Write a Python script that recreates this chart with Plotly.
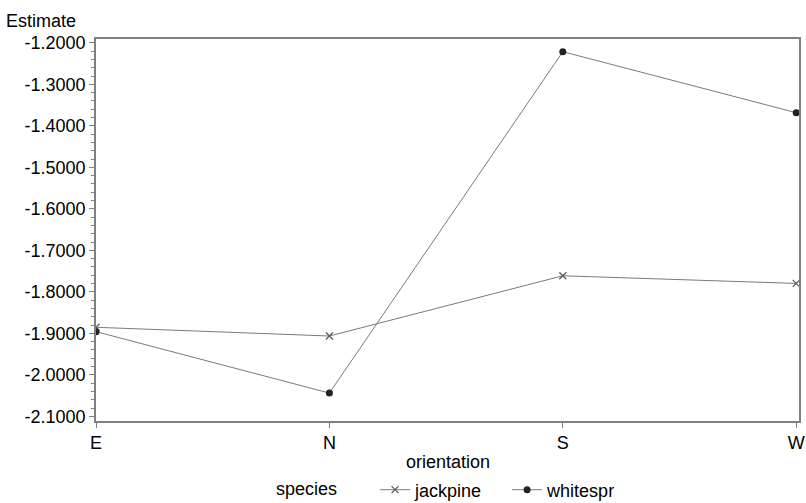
import plotly.graph_objects as go

orientation = ["E", "N", "S", "W"]
jackpine = [-1.8855, -1.9065, -1.7614, -1.7798]
whitespr = [-1.8960, -2.0440, -1.2214, -1.3684]
y_ticks = [-2.1, -2.0, -1.9, -1.8, -1.7, -1.6, -1.5, -1.4, -1.3, -1.2]

FONT = "Liberation Sans, Arial, sans-serif"
LINE = "#808080"
FS = 18
PAD = "\u00a0" * 4

fig = go.Figure()
fig.add_trace(go.Scatter(
    x=orientation, y=jackpine, name="jackpine" + PAD, mode="lines+markers",
    line=dict(color="#7a7a7a", width=1),
    marker=dict(symbol="x-thin", size=7, color="#555555",
                line=dict(color="#555555", width=1.2)),
))
fig.add_trace(go.Scatter(
    x=orientation, y=whitespr, name="whitespr", mode="lines+markers",
    line=dict(color="#7a7a7a", width=1),
    marker=dict(symbol="circle", size=7, color="#222222"),
))

fig.update_layout(
    width=806, height=503,
    margin=dict(l=96, r=7, t=39, b=82, autoexpand=False),
    paper_bgcolor="white", plot_bgcolor="white",
    font=dict(family=FONT, size=FS, color="black"),
    showlegend=True,
    legend=dict(
        orientation="h", x=0.5, xanchor="center",
        yref="container", y=1 - 490 / 503, yanchor="middle",
        title=dict(text="species" + "\u00a0" * 6, font=dict(size=FS)),
        font=dict(size=FS), itemwidth=30, tracegroupgap=0,
        bgcolor="rgba(0,0,0,0)",
    ),
    xaxis=dict(
        type="category", range=[0, 3.012], automargin=False,
        showline=True, linecolor=LINE, linewidth=1.5, mirror=True,
        ticks="outside", ticklen=5, tickcolor=LINE, tickwidth=1,
        showgrid=False, zeroline=False,
        tickfont=dict(size=FS),
    ),
    yaxis=dict(
        range=[-2.1113, -1.1908], automargin=False,
        tickvals=y_ticks, ticktext=[f"{v:.4f}" for v in y_ticks],
        showline=True, linecolor=LINE, linewidth=1.5, mirror=True,
        ticks="outside", ticklen=5, tickcolor=LINE, tickwidth=1,
        minor=dict(ticks="outside", ticklen=3, tickcolor=LINE, dtick=0.02, tick0=-2.1, showgrid=False),
        showgrid=False, zeroline=False,
        tickfont=dict(size=FS),
    ),
    annotations=[
        dict(text="Estimate", xref="paper", yref="paper", x=-92 / 703, y=1, xanchor="left",
             yanchor="middle", yshift=18, showarrow=False, font=dict(size=FS)),
        dict(text="orientation", xref="paper", yref="paper", x=0.5, y=0, xanchor="center",
             yanchor="middle", yshift=-41, showarrow=False, font=dict(size=FS)),
    ],
)

fig.write_html("out.html")
